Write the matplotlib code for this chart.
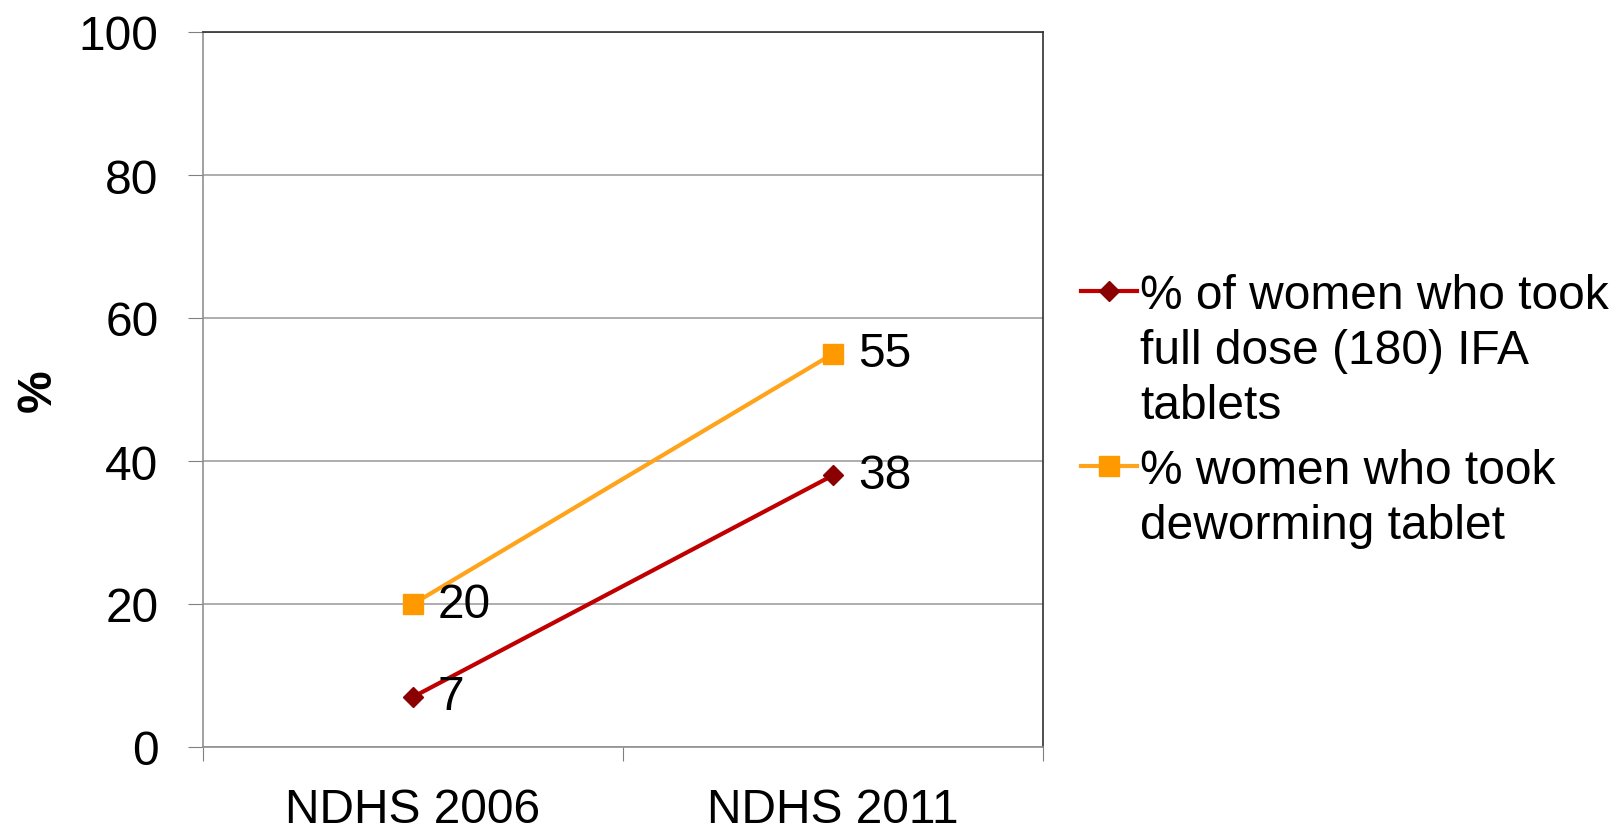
import matplotlib
matplotlib.use("Agg")
import matplotlib.pyplot as plt
from matplotlib.lines import Line2D

plt.rcParams['font.family'] = ['Liberation Sans', 'DejaVu Sans']

# data
surveys = ['NDHS 2006', 'NDHS 2011']
ifa_full_dose = [7, 38]
deworming = [20, 55]
ifa_label = '% of women who took\nfull dose (180) IFA\ntablets'
deworm_label = '% women who took\ndeworming tablet'
y_ticks = [0, 20, 40, 60, 80, 100]

W, H = 1617, 837
fs = 34.5
red, red_mk = '#C00000', '#8B0000'
orange, orange_mk = '#FFA31A', '#FF9900'

fig = plt.figure(figsize=(W / 100, H / 100), dpi=100)
ax = fig.add_axes([203 / W, 1 - 748 / H, 840 / W, 715 / H])

x = [0.5, 1.5]
ax.plot(x, ifa_full_dose, color=red, lw=3, marker='D', ms=10,
        mfc=red_mk, mec=red_mk, zorder=3)
ax.plot(x, deworming, color=orange, lw=3, marker='s', ms=14,
        mfc=orange_mk, mec=orange_mk, zorder=3)

for series in (ifa_full_dose, deworming):
    for xi, v in zip(x, series):
        ax.annotate(str(v), (xi, v), xytext=(18, 0), textcoords='offset points',
                    va='center', ha='left', fontsize=fs)

ax.set_xlim(0, 2)
ax.set_ylim(0, 100)
ax.set_yticks(y_ticks)
ax.set_xticks([0, 1, 2])
ax.set_xticklabels([])
ax.set_xticks(x, minor=True)
ax.set_xticklabels(surveys, minor=True, fontsize=fs)
ax.tick_params(axis='x', which='minor', length=0, pad=29)
ax.tick_params(axis='x', which='major', length=10, color='#808080')
ax.tick_params(axis='y', length=11, color='#808080', labelsize=fs, pad=21)

ax.grid(axis='y', color='#A0A0A0', lw=1.2)
ax.set_axisbelow(True)
for s in ['left', 'bottom']:
    ax.spines[s].set_color('#909090')
    ax.spines[s].set_linewidth(1.2)
for s in ['top', 'right']:
    ax.spines[s].set_color('#303030')
    ax.spines[s].set_linewidth(1.2)

ax.set_ylabel('%', fontsize=fs, fontweight='bold', labelpad=13)

# legend drawn by hand so the key sits on the first line of each entry
def legend_entry(y_px, label, color, mcolor, marker, ms):
    y = 1 - y_px / H
    fig.add_artist(Line2D([1081 / W, 1109 / W, 1137 / W], [y, y, y],
                          transform=fig.transFigure, color=color, lw=3,
                          marker=marker, ms=ms, mfc=mcolor, mec=mcolor,
                          markevery=[1]))
    fig.text(1140 / W, 1 - (y_px - 18) / H, label, fontsize=fs, va='top',
             ha='left', linespacing=1.28)

legend_entry(292, ifa_label, red, red_mk, 'D', 10)
legend_entry(467, deworm_label, orange, orange_mk, 's', 14)

fig.savefig('out.png', dpi=100)
